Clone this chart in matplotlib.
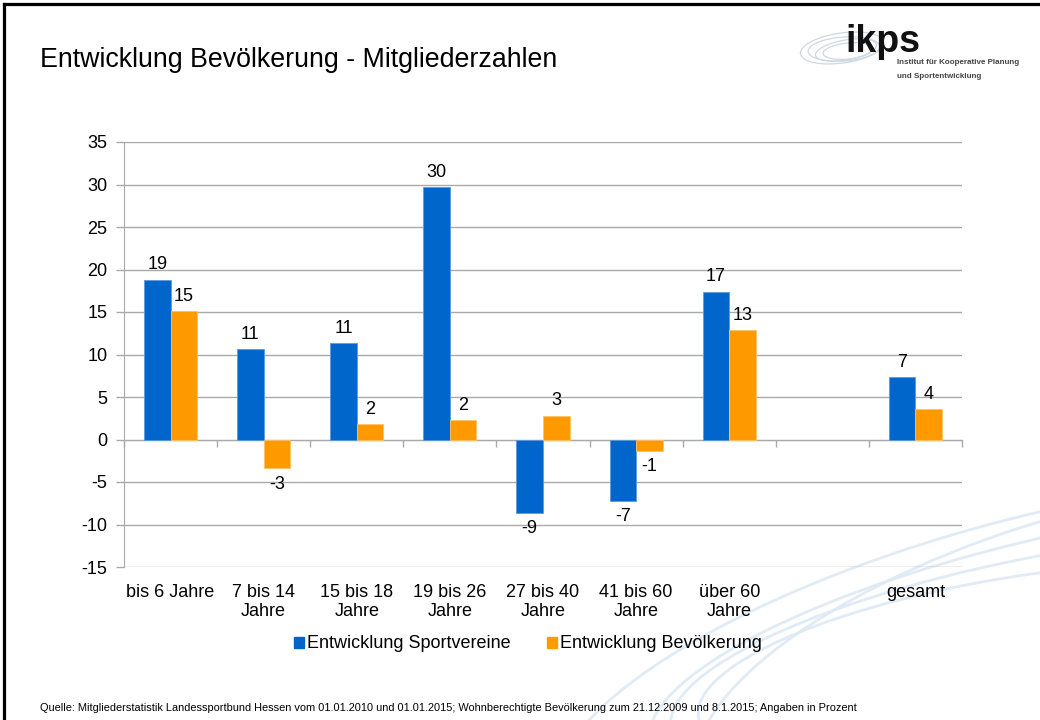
import numpy as np
import matplotlib
matplotlib.use('Agg')
import matplotlib.pyplot as plt
from matplotlib.patches import Patch, Ellipse
from matplotlib.lines import Line2D

# Daten (Angaben in Prozent)
categories = ['bis 6 Jahre', '7 bis 14\nJahre', '15 bis 18\nJahre', '19 bis 26\nJahre',
              '27 bis 40\nJahre', '41 bis 60\nJahre', 'über 60\nJahre', '', 'gesamt']
sportvereine = [18.8, 10.6, 11.3, 29.7, -8.6, -7.2, 17.4, np.nan, 7.3]
bevoelkerung = [15.1, -3.4, 1.8, 2.3, 2.8, -1.3, 12.9, np.nan, 3.6]
series_names = ['Entwicklung Sportvereine', 'Entwicklung Bevölkerung']
y_ticks = [-15, -10, -5, 0, 5, 10, 15, 20, 25, 30, 35]

BLUE = '#0066cc'
ORANGE = '#ff9900'
GRID = '#a9a9a9'

plt.rcParams['font.family'] = ['Liberation Sans', 'DejaVu Sans']
plt.rcParams['axes.unicode_minus'] = False

W, H = 1040, 720
fig = plt.figure(figsize=(W / 100, H / 100), dpi=100)

# Hintergrund mit Bögen (Folienlayout)
bg = fig.add_axes([0, 0, 1, 1], zorder=-5)
bg.set_xlim(0, W)
bg.set_ylim(H, 0)
bg.axis('off')
for i, (w, h, a) in enumerate([(900, 240, -12), (820, 210, -10), (760, 280, -18),
                               (700, 190, -8), (980, 310, -15)]):
    bg.add_patch(Ellipse((1090 - i * 15, 650 + i * 6), w, h, angle=a, fill=False,
                         ec='#dde9f4', lw=2.0, alpha=0.9))
# Logo
for i, (w, h, a) in enumerate([(84, 30, -8), (72, 24, -4), (62, 20, -10), (50, 16, -6)]):
    bg.add_patch(Ellipse((842 + i * 2, 48 + i), w, h, angle=a, fill=False, ec='#cdd8e2', lw=0.9))
bg.text(845, 42, 'ikps', fontsize=27, fontweight='bold', color='#111111', va='center', ha='left')
bg.text(897, 63, 'Institut für Kooperative Planung', fontsize=5.8, fontweight='bold',
        color='#444444', va='center', ha='left')
bg.text(897, 76, 'und Sportentwicklung', fontsize=5.8, fontweight='bold',
        color='#444444', va='center', ha='left')

# Rahmen oben und links
fig.add_artist(Line2D([4 / W, 1], [1 - 4 / H, 1 - 4 / H], color='black', lw=2.3,
                      transform=fig.transFigure))
fig.add_artist(Line2D([4 / W, 4 / W], [0, 1 - 4 / H], color='black', lw=2.3,
                      transform=fig.transFigure))

fig.text(40 / W, 1 - 60 / H, 'Entwicklung Bevölkerung - Mitgliederzahlen', fontsize=19.3,
         va='center', ha='left')

ax = fig.add_axes([124 / W, 1 - 567 / H, (962 - 124) / W, (567 - 142) / H])
ax.set_facecolor('none')

x = np.arange(len(categories))
bw = 0.285
ax.bar(x - bw / 2, sportvereine, bw, color=BLUE, edgecolor='#5c9be0', lw=0.6,
       label=series_names[0], zorder=3)
ax.bar(x + bw / 2, bevoelkerung, bw, color=ORANGE, edgecolor='#ffc266', lw=0.6,
       label=series_names[1], zorder=3)

for xs, vals in [(x - bw / 2, sportvereine), (x + bw / 2, bevoelkerung)]:
    for xi, v in zip(xs, vals):
        if np.isnan(v):
            continue
        if v >= 0:
            ax.annotate(f'{v:.0f}', (xi, v), xytext=(0, 4.5), textcoords='offset points',
                        ha='center', va='bottom', fontsize=13)
        else:
            ax.annotate(f'{v:.0f}', (xi, v), xytext=(0, -5.5), textcoords='offset points',
                        ha='center', va='top', fontsize=13)

ax.set_xlim(-0.5, len(categories) - 0.5)
ax.set_ylim(-15, 35)
ax.set_yticks(y_ticks)
ax.set_yticklabels([str(t) for t in y_ticks])
ax.yaxis.grid(True, color=GRID, lw=1)
ax.set_axisbelow(True)
ax.tick_params(axis='y', direction='out', length=6, width=1, color=GRID, pad=6, labelsize=13)

ax.set_xticks(np.arange(len(categories) + 1) - 0.5)
ax.tick_params(axis='x', direction='out', length=5, width=1, color=GRID, labelbottom=False)

for s in ['top', 'right']:
    ax.spines[s].set_visible(False)
ax.spines['left'].set_color(GRID)
ax.spines['bottom'].set_color(GRID)
ax.spines['bottom'].set_position(('data', 0))

for xi, lab in zip(x, categories):
    ax.annotate(lab, (xi, -15), xytext=(0, -12), textcoords='offset points',
                ha='center', va='top', fontsize=13, linespacing=1.2, annotation_clip=False)

handles = [Patch(color=BLUE), Patch(color=ORANGE)]
fig.legend(handles, series_names, loc='center', bbox_to_anchor=(528 / W, 1 - 644 / H),
           ncol=2, frameon=False, fontsize=13, handlelength=0.55, handleheight=0.55,
           handletextpad=0.2, columnspacing=2.0)

fig.text(40 / W, 1 - 708 / H,
         'Quelle: Mitgliederstatistik Landessportbund Hessen vom 01.01.2010 und 01.01.2015; '
         'Wohnberechtigte Bevölkerung zum 21.12.2009 und 8.1.2015; Angaben in Prozent',
         fontsize=7.9, va='center', ha='left')

fig.savefig('out.png', dpi=100)
